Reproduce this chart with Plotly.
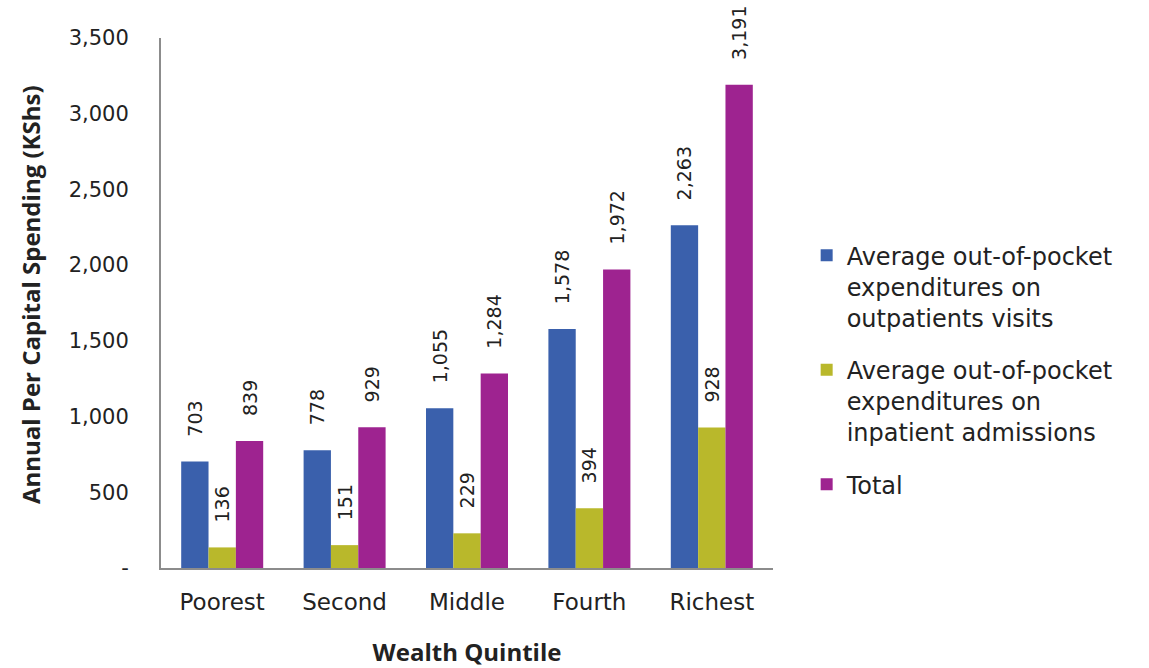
import plotly.graph_objects as go

quintiles = ["Poorest", "Second", "Middle", "Fourth", "Richest"]
outpatient = [703, 778, 1055, 1578, 2263]
inpatient = [136, 151, 229, 394, 928]
total = [839, 929, 1284, 1972, 3191]

series_names = [
    "Average out-of-pocket<br>expenditures on<br>outpatients visits",
    "Average out-of-pocket<br>expenditures on<br>inpatient admissions",
    "Total",
]
series_colors = ["#3A60AC", "#B9B82B", "#9E2390"]

y_ticks = [0, 500, 1000, 1500, 2000, 2500, 3000, 3500]
y_ticktext = ["-", "500", "1,000", "1,500", "2,000", "2,500", "3,000", "3,500"]

FONT = "DejaVu Sans"
TITLE_FONT = "Open Sans"
INK = "#222222"
PAD = "\u00a0" * 3 + "\u2009"  # keeps the value labels clear of the bar tops

fig = go.Figure()
for i, (name, vals, color) in enumerate(zip(series_names, [outpatient, inpatient, total], series_colors)):
    fig.add_trace(go.Bar(
        x=quintiles,
        y=vals,
        name=name,
        legendgroup=f"g{i}",
        marker=dict(color=color, line=dict(width=0)),
        text=[PAD + f"{v:,}" for v in vals],
        textposition="outside",
        textangle=-90,
        textfont=dict(family=FONT, size=19, color=INK),
        cliponaxis=False,
    ))

# y-axis title placed as a rotated annotation so it can sit close to the page edge
fig.add_annotation(
    text="<b>Annual Per Capital Spending (KShs)</b>",
    xref="paper", yref="paper",
    x=-0.214, y=0.515,
    xanchor="center", yanchor="middle",
    textangle=-90,
    showarrow=False,
    font=dict(family=TITLE_FONT, size=24, color=INK),
)

fig.update_layout(
    width=1149,
    height=668,
    barmode="group",
    bargap=0.33,
    bargroupgap=0,
    plot_bgcolor="white",
    paper_bgcolor="white",
    margin=dict(l=161, r=376, t=38, b=100, autoexpand=False),
    font=dict(family=FONT, color=INK),
    uniformtext=dict(mode="show", minsize=19),
    legend=dict(
        x=1.055,
        y=0.632,
        xanchor="left",
        yanchor="top",
        valign="top",
        font=dict(family=FONT, size=24, color=INK),
        tracegroupgap=18,
        itemsizing="constant",
        traceorder="grouped",
    ),
    xaxis=dict(
        automargin=False,
        showline=True,
        linecolor="#8C8C8C",
        linewidth=2,
        ticks="",
        ticklabelstandoff=12,
        tickfont=dict(family=FONT, size=23, color=INK),
        title=dict(text="<b>Wealth Quintile</b>", font=dict(family=TITLE_FONT, size=24, color=INK), standoff=39),
    ),
    yaxis=dict(
        automargin=False,
        range=[0, 3500],
        tickvals=y_ticks,
        ticktext=y_ticktext,
        showline=True,
        linecolor="#8C8C8C",
        linewidth=2,
        showgrid=False,
        zeroline=False,
        ticks="",
        ticklabelstandoff=26,
        tickfont=dict(family=FONT, size=21, color=INK),
    ),
)

fig.write_html("out.html")
